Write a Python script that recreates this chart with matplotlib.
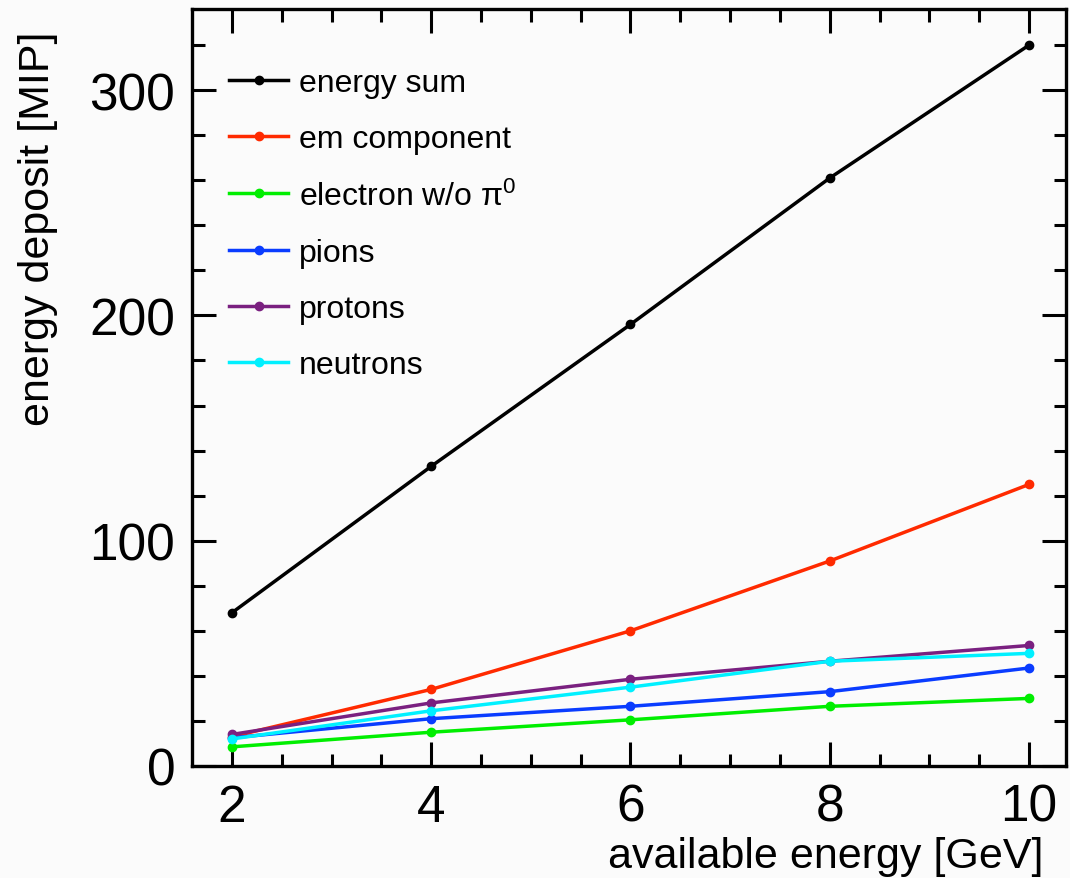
import matplotlib
matplotlib.use("Agg")
import matplotlib.pyplot as plt
from matplotlib.ticker import MultipleLocator

plt.rcParams['font.family'] = ['Liberation Sans', 'DejaVu Sans']
plt.rcParams['mathtext.fontset'] = 'custom'
plt.rcParams['mathtext.rm'] = 'Liberation Sans'
plt.rcParams['mathtext.it'] = 'Liberation Sans'

energy = [2, 4, 6, 8, 10]
energy_sum = [68, 133, 196, 261, 320]
em_component = [13, 34, 60, 91, 125]
electron_wo_pi0 = [8.5, 15, 20.5, 26.5, 30]
pions = [12.5, 21, 26.5, 33, 43.5]
protons = [14, 28, 38.5, 46.5, 53.5]
neutrons = [12, 24.5, 35, 46.5, 50]

labels = ["energy sum", "em component", "electron w/o π$^0$", "pions", "protons", "neutrons"]
colors = ["#000000", "#ff2a00", "#00ee00", "#0a3cff", "#7a2080", "#00f0ff"]
series = [energy_sum, em_component, electron_wo_pi0, pions, protons, neutrons]

fig = plt.figure(figsize=(10.70, 8.79), dpi=100)
bg = "#fbfbfb"
fig.patch.set_facecolor(bg)
ax = fig.add_axes([192/1070, 1-767/879, (1066-192)/1070, (767-10)/879])
ax.set_facecolor(bg)

for vals, lab, c in zip(series, labels, colors):
    ax.plot(energy, vals, color=c, lw=2.5, marker='o', ms=6, label=lab)

ax.set_xlim(1.6, 10.37)
ax.set_ylim(0, 336)
ax.xaxis.set_major_locator(MultipleLocator(2))
ax.xaxis.set_minor_locator(MultipleLocator(0.5))
ax.yaxis.set_major_locator(MultipleLocator(100))
ax.yaxis.set_minor_locator(MultipleLocator(20))
ax.tick_params(which='both', direction='in', top=True, right=True, width=2.2, labelsize=37)
ax.tick_params(which='major', length=17, pad=12)
ax.tick_params(which='minor', length=9)
for s in ax.spines.values():
    s.set_linewidth(2.4)

leg = ax.legend(loc='upper left', bbox_to_anchor=(0.0277, 0.939), frameon=False,
                fontsize=23, handlelength=1.85, handletextpad=0.35, labelspacing=0.82,
                borderaxespad=0)

fig.text(1043/1070, 11/879, "available energy [GeV]", ha='right', va='baseline', fontsize=31)
fig.text(38/1070, 1-32/879, "energy deposit [MIP]", ha='center', va='top', rotation=90, fontsize=31)

fig.savefig("out.png", dpi=100, facecolor=bg)
